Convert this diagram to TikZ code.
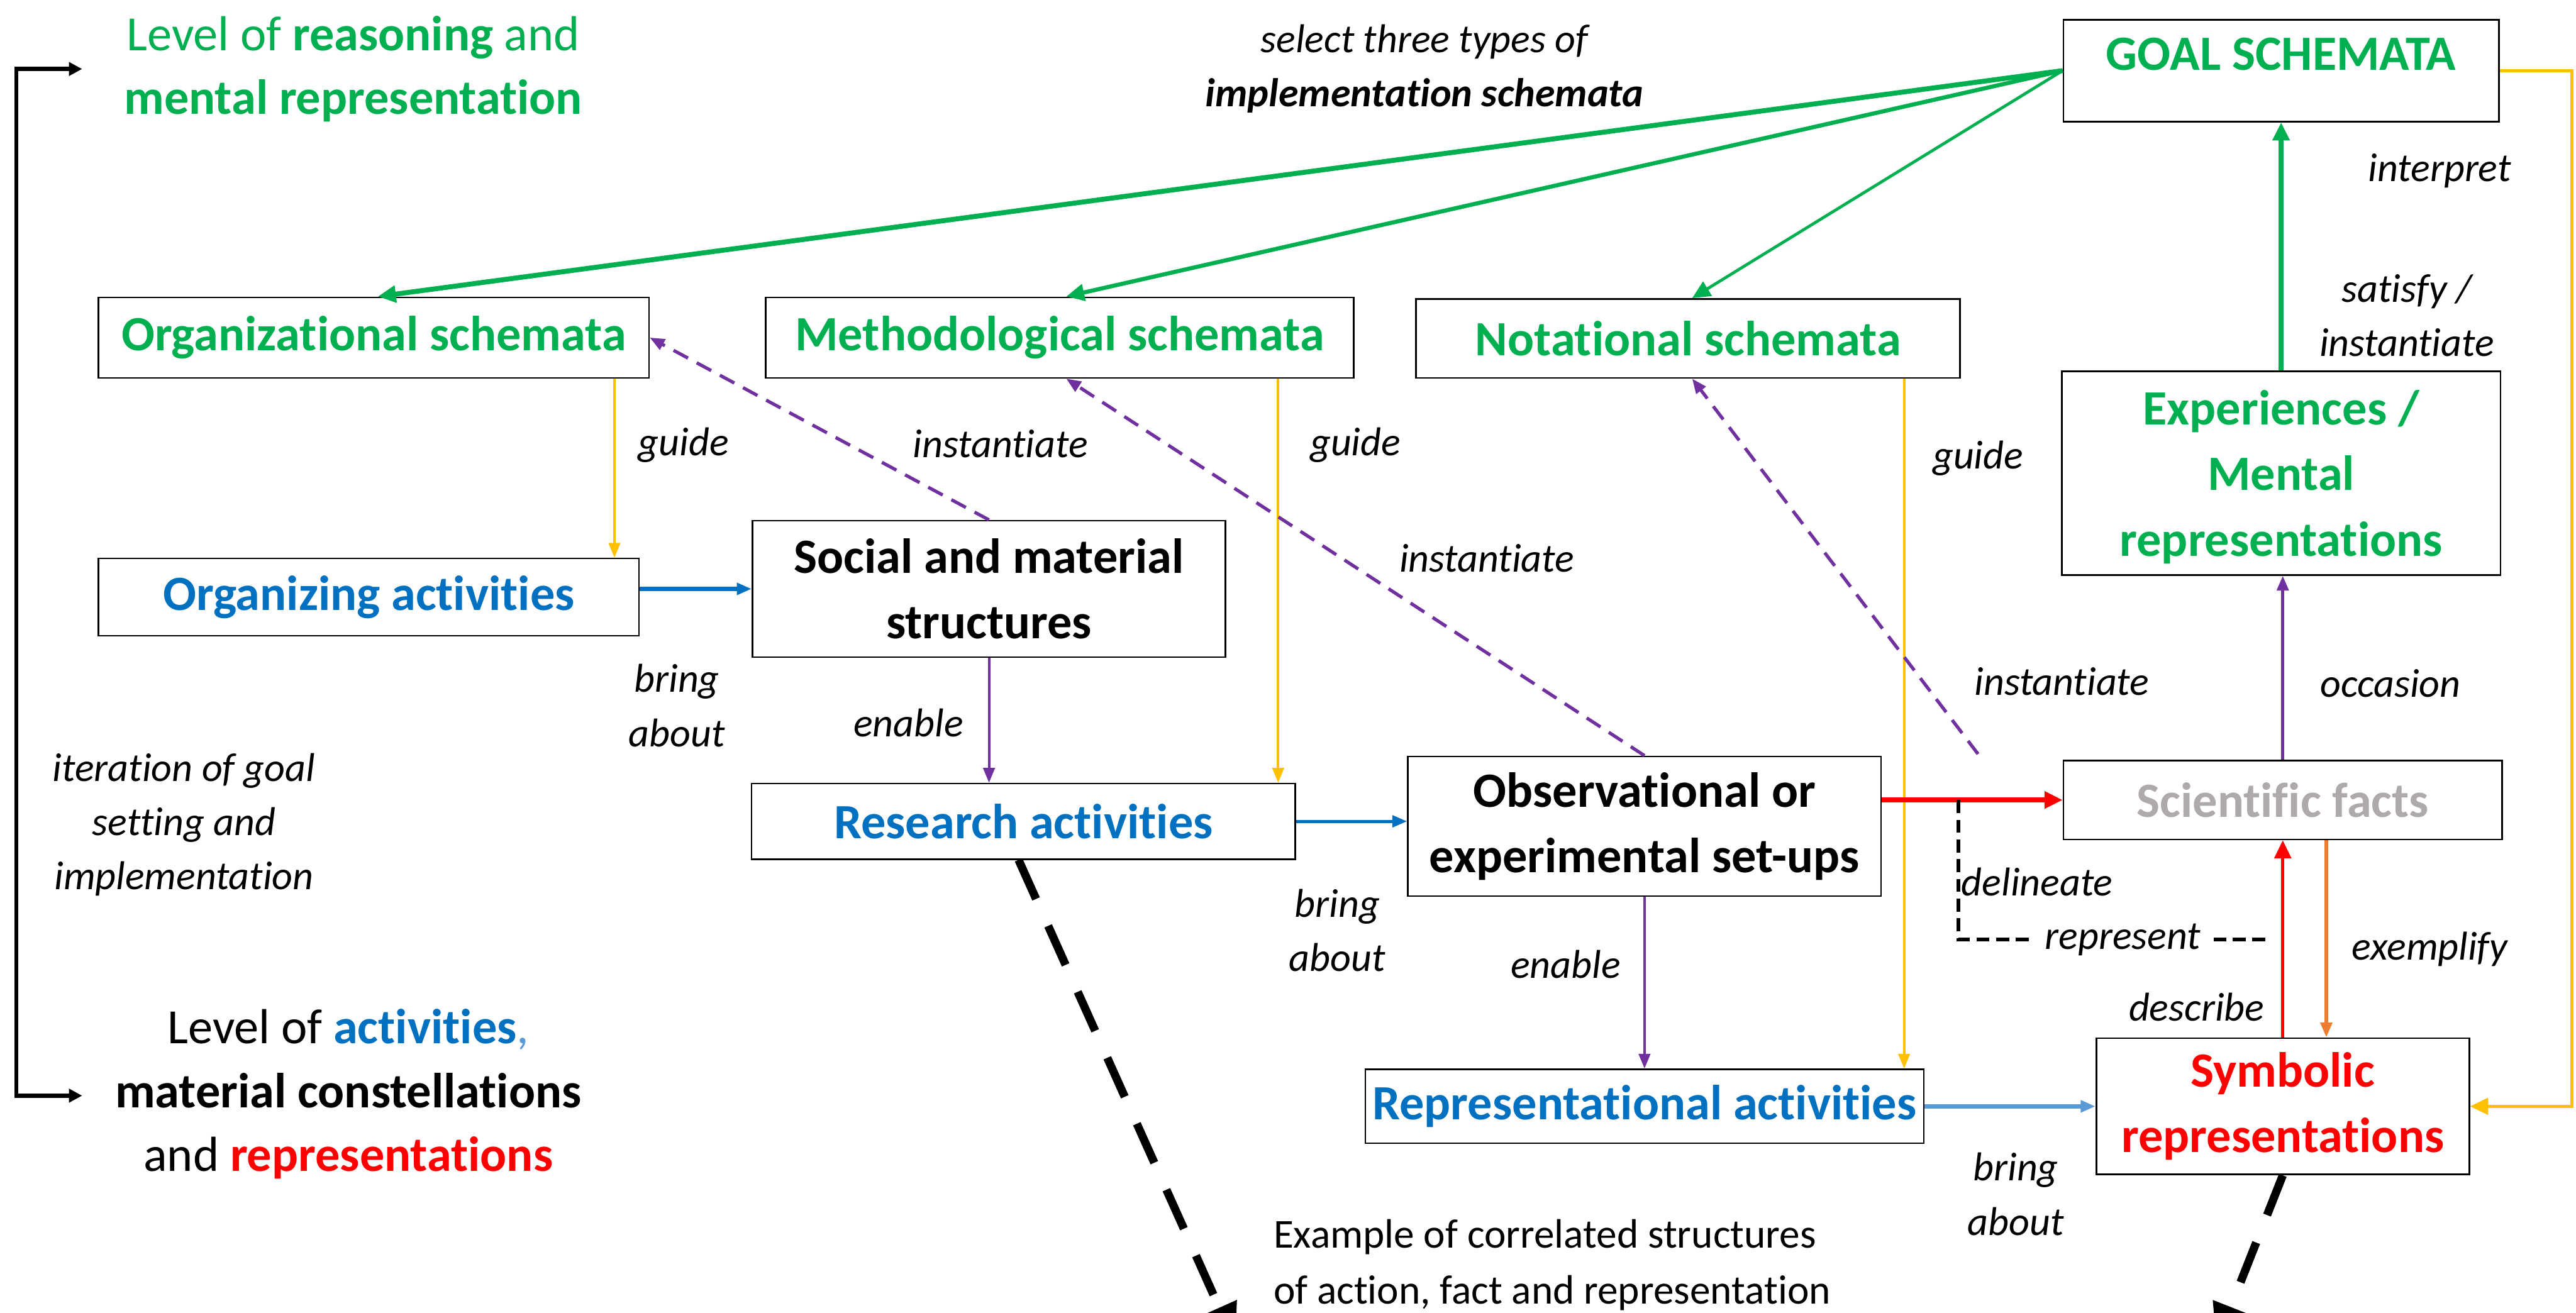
\documentclass[tikz,border=0pt]{standalone}
\usepackage{fontspec}
\setmainfont{Carlito}[Ligatures={NoCommon},Contextuals={NoAlternate}]
\usetikzlibrary{arrows.meta}
\definecolor{cgreen}{HTML}{00B050}
\definecolor{cblue}{HTML}{0070C0}
\definecolor{cred}{HTML}{FF0000}
\definecolor{cyel}{HTML}{FFC000}
\definecolor{cpur}{HTML}{7030A0}
\definecolor{corange}{HTML}{ED7D31}
\definecolor{clblue}{HTML}{5B9BD5}
\definecolor{cgray}{HTML}{AEAAAA}
\begin{document}
\begin{tikzpicture}[x=1pt,y=-1pt,
  box/.style={draw=black, line width=1pt, inner sep=0pt, align=center, font=\fontsize{30}{40}\selectfont\bfseries},
  lbl/.style={font=\fontsize{24.5}{33}\selectfont\itshape, align=center, inner sep=0pt},
  lvl/.style={font=\fontsize{30}{39}\selectfont, align=center, inner sep=0pt},
  extext/.style={font=\fontsize{25}{34}\selectfont, align=left, inner sep=0pt},
  tipS/.style={-{Triangle[length=9pt,width=7pt]}},
  tipL/.style={-{Triangle[length=11pt,width=10pt]}},
  pdash/.style={cpur, line width=2pt, dash pattern=on 10pt off 6pt, tipS},
  bigdash/.style={black, line width=5pt, dash pattern=on 26pt off 18pt, -{Triangle[length=24pt,width=22pt]}}
]
\useasboundingbox (0,0) rectangle (1568,799);
\clip (0,0) rectangle (1568,799);

% ---------- boxes ----------
\node[box, minimum width=265, minimum height=62, text=cgreen, text height=20, text depth=21] (goal) at (1388.5,43) {GOAL SCHEMATA};
\node[box, minimum width=267, minimum height=124, text=cgreen, text depth=0pt] (exp) at (1388.5,288) {Experiences /\\Mental\\representations};
\node[box, minimum width=335, minimum height=49, text=cgreen] (org) at (227.5,205.5) {Organizational schemata};
\node[box, minimum width=358, minimum height=49, text=cgreen] (meth) at (645,205.5) {Methodological schemata};
\node[box, minimum width=331, minimum height=48, text=cgreen] (not) at (1027.5,206) {Notational schemata};
\node[box, minimum width=329, minimum height=47, text=cblue] (orgact) at (224.5,363.5) {Organizing activities};
\node[box, minimum width=288, minimum height=83] (soc) at (602,358.5) {Social and material\\structures};
\node[box, minimum width=331, minimum height=46, text=cblue] (res) at (623,500) {Research activities};
\node[box, minimum width=288, minimum height=85] (obs) at (1001,503) {Observational or\\experimental set-ups};
\node[box, minimum width=267, minimum height=48, text=cgray] (sf) at (1389.5,487) {Scientific facts};
\node[box, minimum width=340, minimum height=45, text=cblue] (repr) at (1001,673.5) {Representational activities};
\node[box, minimum width=227, minimum height=83, text=cred] (sym) at (1389.5,673.5) {Symbolic\\representations};

% ---------- level texts ----------
\node[lvl, text=cgreen] (lvtop) at (215,42) {Level of \textbf{reasoning} and\\\textbf{mental representation}};
\node[lvl] (lvbot) at (212,666) {Level of \textcolor{cblue}{\textbf{activities}}\textcolor{clblue}{,}\\\textbf{material constellations}\\and \textcolor{cred}{\textbf{representations}}};
\coordinate (bt) at (50,42);
\coordinate (bb) at (50,667);
\draw[line width=2.5pt, {Triangle[length=8pt,width=8pt]}-{Triangle[length=8pt,width=8pt]}] (bt) -- (10,42) -- (10,667) -- (bb);

% ---------- labels ----------
\node[lbl] (lsel) at (867,42) {select three types of\\\textbf{implementation schemata}};
\node[lbl] (lint) at (1485,104) {interpret};
\node[lbl] (lsat) at (1465,192) {satisfy /\\instantiate};
\node[lbl] (lg1) at (416,271) {guide};
\node[lbl] (lg2) at (825,271) {guide};
\node[lbl] (lg3) at (1204,279) {guide};
\node[lbl] (li1) at (609,270) {instantiate};
\node[lbl] (li2) at (905,340) {instantiate};
\node[lbl] (li3) at (1255,415) {instantiate};
\node[lbl] (locc) at (1455,416) {occasion};
\node[lbl] (lb1) at (412,429.5) {bring\\about};
\node[lbl] (len1) at (553,440) {enable};
\node[lbl] (lb2) at (814,566.5) {bring\\about};
\node[lbl] (len2) at (953,587) {enable};
\node[lbl] (ldel) at (1240,537) {delineate};
\node[lbl] (lexe) at (1479,578) {exemplify};
\node[lbl] (ldes) at (1337,613) {describe};
\node[lbl] (lb3) at (1227,727) {bring\\about};
\node[lbl] (liter) at (112,502) {iteration of goal\\setting and\\implementation};
\node[extext, anchor=west] (lex) at (775,770) {Example of correlated structures\\of action, fact and representation};

% ---------- green: goal schemata ----------
\draw[cgreen, line width=3pt, tipL] (goal.west) -- ([xshift=2.5]org.north);
\draw[cgreen, line width=2.5pt, tipL] (goal.west) -- ([xshift=4]meth.north);
\draw[cgreen, line width=1.8pt, tipL] (goal.west) -- ([xshift=2.5]not.north);
\draw[cgreen, line width=3pt, tipL] (exp.north) -- (exp.north |- goal.south);

% ---------- yellow: guide / interpret ----------
\draw[cyel, line width=1.5pt, tipS] ([xshift=146.5]org.south) coordinate (g1) -- (g1 |- orgact.north);
\draw[cyel, line width=1.5pt, tipS] ([xshift=133]meth.south) coordinate (g2) -- (g2 |- res.north);
\draw[cyel, line width=1.5pt, tipS] ([xshift=131.5]not.south) coordinate (g3) -- (g3 |- repr.north);
\draw[cyel, line width=2pt, tipL] (goal.east) -- ++(44,0) |- (sym.east);

% ---------- blue: bring about ----------
\draw[cblue, line width=2.5pt, tipS] ([yshift=5]orgact.east) coordinate (b1) -- (b1 -| soc.west);
\draw[cblue, line width=2pt, tipS] (res.east) -- (res.east -| obs.west);
\draw[clblue, line width=2.5pt, tipS] (repr.east) -- (repr.east -| sym.west);

% ---------- purple: enable / occasion / instantiate ----------
\draw[cpur, line width=1.5pt, tipS] (soc.south) -- (soc.south |- res.north);
\draw[cpur, line width=1.5pt, tipS] (obs.south) -- (obs.south |- repr.north);
\draw[cpur, line width=2pt, tipS] (sf.north) -- (sf.north |- exp.south);
\draw[pdash] (soc.north) -- (org.east);
\draw[pdash] (obs.north) -- ([xshift=4]meth.south);
\coordinate (nfree) at (1204,459);
\draw[pdash] (nfree) -- ([xshift=2.5]not.south);

% ---------- red / orange ----------
\draw[cred, line width=3pt, tipL] (sf.west -| obs.east) -- (sf.west);
\draw[cred, line width=2pt, tipL] (sym.north) -- (sym.north |- sf.south);
\draw[corange, line width=2pt, tipS] ([xshift=26.5]sf.south) coordinate (ex1) -- (ex1 |- sym.north);

% ---------- delineate / represent ----------
\coordinate (dl) at (1192,487);
\coordinate (rp) at (1381,572);
\draw[black, line width=2.2pt, dash pattern=on 8pt off 4pt] (dl) -- (dl |- rp) -- node[pos=0.53, fill=white, inner xsep=8pt, inner ysep=0pt, font=\fontsize{24.5}{33}\selectfont\itshape] (lrep) {represent} (rp);

% ---------- big dashed arrows ----------
\coordinate (e1) at (752,818);
\coordinate (e2) at (1349,818);
\draw[bigdash] ([xshift=-3]res.south) -- (e1);
\draw[bigdash] (sym.south) -- (e2);
\end{tikzpicture}
\end{document}
